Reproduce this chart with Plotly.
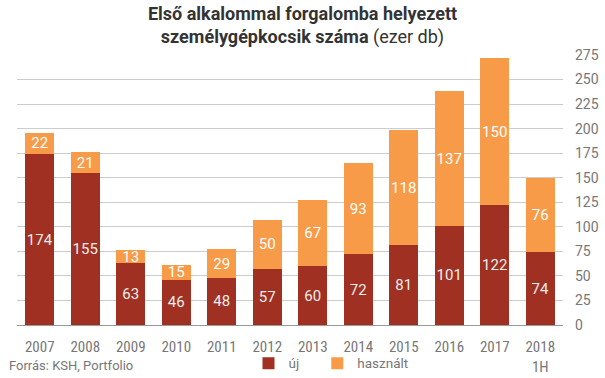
import plotly.graph_objects as go

years = ["2007", "2008", "2009", "2010", "2011", "2012", "2013", "2014", "2015", "2016", "2017", "2018<br>1H"]
uj = [174, 155, 63, 46, 48, 57, 60, 72, 81, 101, 122, 74]
hasznalt = [22, 21, 13, 15, 29, 50, 67, 93, 118, 137, 150, 76]
y_ticks = list(range(0, 276, 25))

RED = "#A03022"
ORANGE = "#F79B48"
FONT = "Roboto"
NARROW = "Roboto Condensed, Liberation Sans Narrow, DejaVu Sans Condensed, Roboto"

fig = go.Figure()
fig.add_trace(go.Bar(
    x=years, y=uj, name="új", marker=dict(color=RED, line=dict(width=0)),
    text=[str(v) for v in uj], textposition="inside", insidetextanchor="middle",
    textangle=0, constraintext="none", textfont=dict(color="#eeeeee", size=15, family=FONT),
    legend="legend",
))
fig.add_trace(go.Bar(
    x=years, y=hasznalt, name="használt", marker=dict(color=ORANGE, line=dict(width=0)),
    text=[str(v) for v in hasznalt], textposition="inside", insidetextanchor="middle",
    textangle=0, constraintext="none", textfont=dict(color="#ffffff", size=15, family=FONT),
    legend="legend2",
))

leg_common = dict(orientation="h", xanchor="left", y=-0.085, yanchor="top",
                  font=dict(size=13.5, color="#777777", family=FONT),
                  bgcolor="rgba(0,0,0,0)")

fig.update_layout(
    barmode="stack",
    bargap=0.36,
    width=605, height=378,
    margin=dict(l=17, r=42, t=55, b=53, autoexpand=False),
    paper_bgcolor="white", plot_bgcolor="white",
    font=dict(family=FONT, color="#777777", size=14),
    title=dict(
        text="<b>Első alkalommal forgalomba helyezett</b><br><b>személygépkocsik száma</b> (ezer db)",
        x=0.5, xanchor="center", y=0.947, yanchor="middle",
        font=dict(family=FONT, size=18, color="#333333"),
    ),
    showlegend=True,
    legend=dict(x=0.424, **leg_common),
    legend2=dict(x=0.55, **leg_common),
    uniformtext=dict(mode=False),
)
fig.update_xaxes(showgrid=False, showline=True, linecolor="#999999", linewidth=1,
                 ticks="", ticklabelstandoff=8, automargin=False,
                 tickfont=dict(size=15, color="#777777", family=NARROW))
fig.update_yaxes(side="right", range=[0, 275], tickvals=y_ticks, showgrid=True,
                 gridcolor="#cccccc", gridwidth=1, zeroline=False, showline=False,
                 ticks="", ticklabelstandoff=11, automargin=False,
                 tickfont=dict(size=14, color="#777777"))
fig.add_annotation(text="Forrás: KSH, Portfolio", xref="paper", yref="paper",
                   x=-0.018, xanchor="left", y=-0.15, yanchor="middle", showarrow=False,
                   font=dict(size=13, color="#777777", family=FONT))

fig.write_html("out.html", config={"displayModeBar": False},
               post_script="document.body.style.margin='0';document.body.style.padding='0';")
